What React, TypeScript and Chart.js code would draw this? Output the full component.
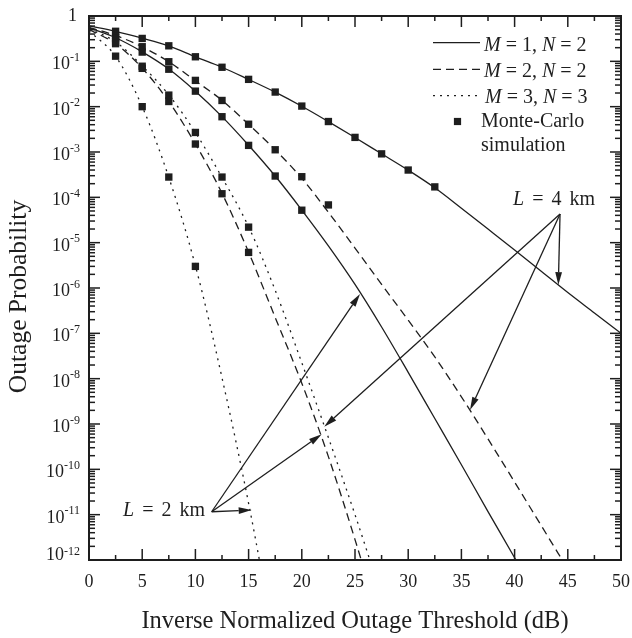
import React, { useEffect, useRef } from "react";
import { Chart, registerables } from "chart.js";

Chart.register(...registerables);

// ---------- data ----------
// Inverse normalized outage threshold (dB) for the analytical curves
const thresholdDb = [0, 2.5, 5, 7.5, 10, 12.5, 15, 17.5, 20, 22.5, 25, 27.5, 30, 32.5, 35, 37.5, 40, 42.5, 45, 47.5, 50];

// Analytical outage probability, one array per curve
const lineM1N2L4 = [0.603, 0.457, 0.324, 0.219, 0.126, 0.0741, 0.0398, 0.0209, 0.0102, 0.00468, 0.00209, 9.12e-4, 3.98e-4, 1.62e-4, 5.75e-5, 2.0e-5, 6.92e-6, 2.34e-6, 7.94e-7, 2.82e-7, 1.0e-7];
const lineM2N2L4 = [0.562, 0.372, 0.209, 0.0977, 0.0372, 0.0138, 0.00407, 0.00112, 2.63e-4, 4.68e-5, 7.59e-6, 1.2e-6, 1.95e-7, 3.02e-8, 3.98e-9, 4.68e-10, 5.25e-11, 5.75e-12, 6.31e-13];
const lineM1N2L2 = [0.55, 0.331, 0.162, 0.0676, 0.0219, 0.00603, 0.00141, 2.95e-4, 5.25e-5, 8.51e-6, 1.2e-6, 1.38e-7, 1.38e-8, 1.32e-9, 1.26e-10, 1.17e-11, 1.12e-12, 1.0e-13];
const lineM3N3L4 = [0.525, 0.269, 0.0794, 0.0182, 0.00269, 2.75e-4, 2.24e-5, 8.91e-7, 2.24e-8, 5.01e-10, 1.0e-11, 1.58e-13];
const lineM2N2L2 = [0.501, 0.245, 0.0708, 0.0129, 0.00151, 1.23e-4, 6.17e-6, 2.24e-7, 7.94e-9, 1.91e-10, 2.82e-12, 3.16e-14];
const lineM3N3L2 = [0.468, 0.129, 0.01, 2.75e-4, 3.09e-6, 1.05e-8, 1.78e-11, 1.26e-14];

// Monte-Carlo simulation points
const simDb = [2.5, 5, 7.5, 10, 12.5, 15, 17.5, 20, 22.5, 25, 27.5, 30, 32.5];
const simM1N2L4 = [0.46, 0.32, 0.22, 0.126, 0.074, 0.04, 0.021, 0.0103, 0.0047, 0.0021, 9.1e-4, 4.0e-4, 1.7e-4];
const simM2N2L4 = [0.37, 0.21, 0.098, 0.038, 0.0137, 0.0041, 0.00112, 2.85e-4, 6.8e-5];
const simM1N2L2 = [0.33, 0.16, 0.067, 0.022, 0.006, 0.0014, 2.95e-4, 5.2e-5];
const simM3N3L4 = [0.27, 0.078, 0.018, 0.0027, 2.8e-4, 2.2e-5];
const simM2N2L2 = [0.245, 0.07, 0.013, 0.0015, 1.2e-4, 6.1e-6];
const simM3N3L2 = [0.13, 0.01, 2.8e-4, 3.0e-6];

// Axis ticks
const xMajorTicks = [0, 5, 10, 15, 20, 25, 30, 35, 40, 45, 50];
const yTickExponents = [0, -1, -2, -3, -4, -5, -6, -7, -8, -9, -10, -11, -12];

// Legend entries
const legendLabels = [
  [["M", true], [" = 1, ", false], ["N", true], [" = 2", false]],
  [["M", true], [" = 2, ", false], ["N", true], [" = 2", false]],
  [["M", true], [" = 3, ", false], ["N", true], [" = 3", false]],
] as [string, boolean][][];
const simLabel = ["Monte-Carlo", "simulation"];

// Annotations (data coordinates)
const annotL4 = {
  label: [["L", true], ["=", false], ["4", false], ["km", false]] as [string, boolean][],
  labelAt: { x: 39.85, y: 6.76e-5 },
  from: { x: 44.27, y: 4.29e-5 },
  tips: [
    { x: 44.11, y: 1.16e-6 },
    { x: 35.81, y: 2.04e-9 },
    { x: 22.11, y: 8.71e-10 },
  ],
};
const annotL2 = {
  label: [["L", true], ["=", false], ["2", false], ["km", false]] as [string, boolean][],
  labelAt: { x: 3.2, y: 9.33e-12 },
  from: { x: 11.53, y: 1.16e-11 },
  tips: [
    { x: 25.47, y: 7.38e-7 },
    { x: 21.87, y: 5.92e-10 },
    { x: 15.29, y: 1.27e-11 },
  ],
};

const xTitle = "Inverse Normalized Outage Threshold (dB)";
const yTitle = "Outage Probability";

// ---------- styling ----------
const INK = "#1e1e1e";
const SERIF = '"Liberation Serif", "Times New Roman", serif';
const font = (size: number, italic = false) => `${italic ? "italic " : ""}${size}px ${SERIF}`;
const DASHED = [8, 5];
const DOTTED = [2, 5];

const toPoints = (xs: number[], ys: number[]) => ys.map((y, i) => ({ x: xs[i], y }));

function lineDataset(values: number[], dash: number[]) {
  return {
    type: "line" as const,
    data: toPoints(thresholdDb, values),
    borderColor: INK,
    borderWidth: 1.3,
    borderDash: dash,
    pointRadius: 0,
    showLine: true,
    fill: false,
    cubicInterpolationMode: "monotone" as const,
  };
}

function simDataset(values: number[]) {
  return {
    type: "scatter" as const,
    data: toPoints(simDb, values),
    backgroundColor: INK,
    borderColor: INK,
    borderWidth: 0,
    pointStyle: "rect" as const,
    pointRadius: 5.2,
    showLine: false,
  };
}

function drawTokens(ctx: CanvasRenderingContext2D, tokens: [string, boolean][], x: number, y: number, size: number, gap: number) {
  let cx = x;
  tokens.forEach(([t, it], i) => {
    ctx.font = font(size, it);
    ctx.fillText(t, cx, y);
    cx += ctx.measureText(t).width + (i < tokens.length - 1 ? gap : 0);
  });
}

function arrow(ctx: CanvasRenderingContext2D, x0: number, y0: number, x1: number, y1: number) {
  const ang = Math.atan2(y1 - y0, x1 - x0);
  const len = 13;
  const hw = 3.4;
  const bx = x1 - len * Math.cos(ang);
  const by = y1 - len * Math.sin(ang);
  ctx.beginPath();
  ctx.moveTo(x0, y0);
  ctx.lineTo(bx, by);
  ctx.stroke();
  ctx.beginPath();
  ctx.moveTo(x1, y1);
  ctx.lineTo(bx + hw * Math.sin(ang), by - hw * Math.cos(ang));
  ctx.lineTo(bx - hw * Math.sin(ang), by + hw * Math.cos(ang));
  ctx.closePath();
  ctx.fill();
}

const decorPlugin = {
  id: "decor",
  afterDraw(chart: any) {
    const ctx: CanvasRenderingContext2D = chart.ctx;
    const { left, right, top, bottom } = chart.chartArea;
    const xs = chart.scales.x;
    const ys = chart.scales.y;
    ctx.save();
    ctx.strokeStyle = INK;
    ctx.fillStyle = INK;
    ctx.setLineDash([]);

    // frame
    ctx.lineWidth = 2;
    ctx.strokeRect(left, top, right - left, bottom - top);

    // x ticks (major + minor halfway)
    ctx.lineWidth = 1.5;
    const tick = (x0: number, y0: number, x1: number, y1: number) => {
      ctx.beginPath();
      ctx.moveTo(x0, y0);
      ctx.lineTo(x1, y1);
      ctx.stroke();
    };
    xMajorTicks.forEach((v, i) => {
      const px = xs.getPixelForValue(v);
      tick(px, bottom, px, bottom - 11);
      tick(px, top, px, top + 11);
      if (i < xMajorTicks.length - 1) {
        const mx = xs.getPixelForValue((v + xMajorTicks[i + 1]) / 2);
        tick(mx, bottom, mx, bottom - 5);
        tick(mx, top, mx, top + 5);
      }
    });

    // y ticks (log)
    yTickExponents.forEach((e) => {
      const v = Math.pow(10, e);
      const py = ys.getPixelForValue(v);
      tick(left, py, left + 11, py);
      tick(right, py, right - 11, py);
      if (e > yTickExponents[yTickExponents.length - 1]) {
        for (let m = 2; m <= 9; m++) {
          const my = ys.getPixelForValue(m * Math.pow(10, e - 1));
          tick(left, my, left + 6, my);
          tick(right, my, right - 6, my);
        }
      }
    });

    // y tick labels with superscripts
    ctx.textAlign = "right";
    ctx.textBaseline = "alphabetic";
    yTickExponents.forEach((e, i) => {
      const py = ys.getPixelForValue(Math.pow(10, e));
      if (e === 0) {
        ctx.font = font(18);
        ctx.fillText("1", left - 12, py + 5);
        return;
      }
      const last = i === yTickExponents.length - 1;
      const base = last ? py : py + 8;
      const exp = String(e);
      ctx.font = font(12);
      const ew = ctx.measureText(exp).width;
      ctx.fillText(exp, left - 9, base - (last ? 5 : 8.5));
      ctx.font = font(18);
      ctx.fillText("10", left - 9 - ew, base);
    });

    // axis titles
    ctx.textAlign = "center";
    ctx.font = font(24.5);
    ctx.fillText(xTitle, (left + right) / 2, 628);
    ctx.save();
    ctx.translate(26, 296.5);
    ctx.rotate(-Math.PI / 2);
    ctx.font = font(25.5);
    ctx.fillText(yTitle, 0, 0);
    ctx.restore();

    // legend
    ctx.textAlign = "left";
    const dashes = [[], DASHED, DOTTED];
    const lineY = [42.7, 69.3, 95.7];
    const textY = [50.7, 77, 103.3];
    const textX = [484, 484, 485];
    legendLabels.forEach((tokens, i) => {
      ctx.lineWidth = 1.3;
      ctx.setLineDash(dashes[i]);
      ctx.beginPath();
      ctx.moveTo(433, lineY[i]);
      ctx.lineTo(480, lineY[i]);
      ctx.stroke();
      ctx.setLineDash([]);
      drawTokens(ctx, tokens, textX[i], textY[i], 20, 0);
    });
    ctx.fillRect(457.5 - 3.6, 121.5 - 3.6, 7.2, 7.2);
    ctx.font = font(20);
    ctx.fillText(simLabel[0], 481, 126.7);
    ctx.fillText(simLabel[1], 481, 150.7);

    // annotations with arrows
    ctx.lineWidth = 1.3;
    [annotL4, annotL2].forEach((a) => {
      const fx = xs.getPixelForValue(a.from.x);
      const fy = ys.getPixelForValue(a.from.y);
      a.tips.forEach((t) => {
        arrow(ctx, fx, fy, xs.getPixelForValue(t.x), ys.getPixelForValue(t.y));
      });
      drawTokens(ctx, a.label, xs.getPixelForValue(a.labelAt.x), ys.getPixelForValue(a.labelAt.y), 20, 8);
    });

    ctx.restore();
  },
};

export default function App() {
  const canvasRef = useRef<HTMLCanvasElement | null>(null);

  useEffect(() => {
    if (!canvasRef.current) return;
    const chart = new Chart(canvasRef.current, {
      type: "scatter",
      data: {
        datasets: [
          lineDataset(lineM1N2L4, []),
          lineDataset(lineM2N2L4, DASHED),
          lineDataset(lineM1N2L2, []),
          lineDataset(lineM3N3L4, DOTTED),
          lineDataset(lineM2N2L2, DASHED),
          lineDataset(lineM3N3L2, DOTTED),
          simDataset(simM1N2L4),
          simDataset(simM2N2L4),
          simDataset(simM1N2L2),
          simDataset(simM3N3L4),
          simDataset(simM2N2L2),
          simDataset(simM3N3L2),
        ] as any,
      },
      options: {
        animation: false,
        responsive: false,
        devicePixelRatio: 1,
        layout: { padding: { top: 16, right: 11, left: 0, bottom: 0 } },
        plugins: { legend: { display: false }, tooltip: { enabled: false } },
        scales: {
          x: {
            type: "linear",
            min: 0,
            max: 50,
            grid: { display: false, drawTicks: false },
            border: { display: false },
            ticks: {
              stepSize: 5,
              autoSkip: false,
              maxRotation: 0,
              padding: 11,
              color: INK,
              font: { family: SERIF, size: 18 },
            },
            afterFit: (s: any) => {
              s.height = 78;
              s.paddingLeft = 0;
              s.paddingRight = 0;
            },
          },
          y: {
            type: "logarithmic",
            min: 1e-12,
            max: 1,
            grid: { display: false, drawTicks: false },
            border: { display: false },
            ticks: { display: false },
            afterFit: (s: any) => {
              s.width = 89;
              s.paddingTop = 0;
              s.paddingBottom = 0;
            },
          },
        },
      } as any,
      plugins: [decorPlugin],
    });
    return () => chart.destroy();
  }, []);

  return (
    <div style={{ position: "absolute", left: 0, top: 0, width: 632, height: 638, background: "#fff" }}>
      <canvas ref={canvasRef} width={632} height={638} style={{ display: "block" }} />
    </div>
  );
}
